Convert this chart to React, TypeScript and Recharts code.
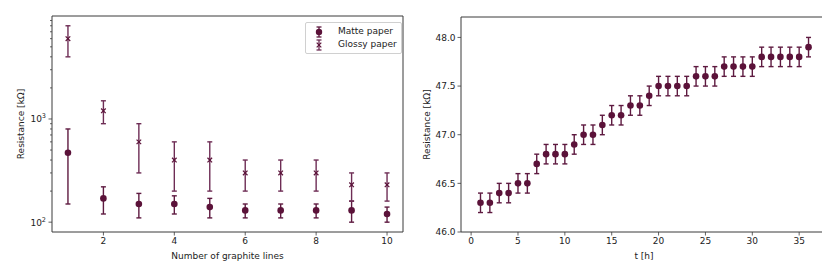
import { ScatterChart, Scatter, XAxis, YAxis, ErrorBar, ReferenceArea, Legend } from "recharts";

// left panel: resistance vs number of graphite lines (log y)
const lines = [1, 2, 3, 4, 5, 6, 7, 8, 9, 10];
const matteR = [470, 170, 150, 150, 140, 130, 130, 130, 130, 120];
const matteLo = [150, 120, 110, 120, 110, 110, 110, 110, 100, 100];
const matteHi = [800, 220, 190, 180, 170, 150, 150, 150, 160, 140];
const glossyR = [6000, 1200, 600, 400, 400, 300, 300, 300, 230, 230];
const glossyLo = [4000, 900, 300, 200, 200, 200, 200, 200, 160, 160];
const glossyHi = [8000, 1500, 900, 600, 600, 400, 400, 400, 300, 300];
const logTicks = [
  100, 200, 300, 400, 500, 600, 700, 800, 900,
  1000, 2000, 3000, 4000, 5000, 6000, 7000, 8000, 9000,
];
const lineTicks = [2, 4, 6, 8, 10];

// right panel: resistance drift over time
const hours = [
  1, 2, 3, 4, 5, 6, 7, 8, 9, 10, 11, 12, 13, 14, 15, 16, 17, 18,
  19, 20, 21, 22, 23, 24, 25, 26, 27, 28, 29, 30, 31, 32, 33, 34, 35, 36,
];
const drift = [
  46.3, 46.3, 46.4, 46.4, 46.5, 46.5, 46.7, 46.8, 46.8, 46.8, 46.9, 47.0,
  47.0, 47.1, 47.2, 47.2, 47.3, 47.3, 47.4, 47.5, 47.5, 47.5, 47.5, 47.6,
  47.6, 47.6, 47.7, 47.7, 47.7, 47.7, 47.8, 47.8, 47.8, 47.8, 47.8, 47.9,
];
const driftErr = 0.1;
const hourTicks = [0, 5, 10, 15, 20, 25, 30, 35];
const driftTicks = [46.0, 46.5, 47.0, 47.5, 48.0];

const MARK = "#5b1239";
const BAR = "#5e1a40";
const GLOSSY_BAR = "#6e2d55";
const FRAME = "#3a3a3a";
const TEXT = "#222";

const matteData = lines.map((x, i) => ({
  x,
  y: matteR[i],
  err: [matteR[i] - matteLo[i], matteHi[i] - matteR[i]],
}));
const glossyData = lines.map((x, i) => ({
  x,
  y: glossyR[i],
  err: [glossyR[i] - glossyLo[i], glossyHi[i] - glossyR[i]],
}));
const driftData = hours.map((x, i) => ({ x, y: drift[i], err: driftErr }));

const Dot = (p: any) => <circle cx={p.cx} cy={p.cy} r={3.3} fill={MARK} />;
const Cross = (p: any) => (
  <g stroke={MARK} strokeWidth={1.2}>
    <line x1={p.cx - 2.3} y1={p.cy - 2.3} x2={p.cx + 2.3} y2={p.cy + 2.3} />
    <line x1={p.cx - 2.3} y1={p.cy + 2.3} x2={p.cx + 2.3} y2={p.cy - 2.3} />
  </g>
);

const LogTick = (p: any) => {
  const v = p.payload.value;
  const e = Math.log10(v);
  const major = Math.abs(e - Math.round(e)) < 1e-6;
  return (
    <g>
      <line x1={p.x} x2={p.x - (major ? 3.5 : 2)} y1={p.y} y2={p.y} stroke={FRAME} strokeWidth={0.8} />
      {major && (
        <text x={p.x - 6} y={p.y + 3.5} textAnchor="end" fontSize={9} fill={TEXT}>
          10
          <tspan dy={-4} fontSize={6.5}>{Math.round(e)}</tspan>
        </text>
      )}
    </g>
  );
};

const LegendIcon = ({ kind }: { kind: string }) => (
  <svg width={10} height={12} style={{ marginRight: 8 }}>
    <g stroke={kind === "dot" ? BAR : GLOSSY_BAR} strokeWidth={1.3}>
      <line x1={5} x2={5} y1={1} y2={11} />
      <line x1={2.5} x2={7.5} y1={1} y2={1} />
      <line x1={2.5} x2={7.5} y1={11} y2={11} />
    </g>
    {kind === "dot" ? (
      <circle cx={5} cy={6} r={3.2} fill={MARK} />
    ) : (
      <g stroke={MARK} strokeWidth={1.2}>
        <line x1={2.7} y1={3.7} x2={7.3} y2={8.3} />
        <line x1={2.7} y1={8.3} x2={7.3} y2={3.7} />
      </g>
    )}
  </svg>
);

const renderLegend = () => (
  <div
    style={{
      border: "1px solid #d0d0d0",
      borderRadius: 2,
      background: "rgba(255,255,255,0.85)",
      padding: "2px 4px 2px 8px",
      fontSize: 9,
      color: TEXT,
      lineHeight: "13px",
    }}
  >
    <div style={{ display: "flex", alignItems: "center" }}>
      <LegendIcon kind="dot" />
      <span style={{ marginLeft: 6 }}>Matte paper</span>
    </div>
    <div style={{ display: "flex", alignItems: "center" }}>
      <LegendIcon kind="cross" />
      <span style={{ marginLeft: 6 }}>Glossy paper</span>
    </div>
  </div>
);

const tickStyle = { fontSize: 9, fill: TEXT };

export default function App() {
  const logDom: [number, number] = [80.3, 9950];
  const lineDom: [number, number] = [0.55, 10.45];
  const hourDom: [number, number] = [-1.08, 37.97];
  const driftDom: [number, number] = [46.0, 48.21];

  return (
    <div
      style={{
        position: "relative",
        width: 830,
        height: 277,
        margin: -8,
        background: "#fff",
        fontFamily: "'DejaVu Sans', sans-serif",
      }}
    >
      <div style={{ position: "absolute", left: 0, top: 0 }}>
        <ScatterChart width={415} height={277} margin={{ top: 16, right: 12, bottom: 15, left: 12 }}>
          <XAxis
            dataKey="x"
            type="number"
            domain={lineDom}
            allowDataOverflow
            ticks={lineTicks}
            interval={0}
            axisLine={false}
            tickSize={3.5}
            tickMargin={2}
            tick={tickStyle}
            tickLine={{ stroke: FRAME, strokeWidth: 0.8 }}
            height={30}
            label={{ value: "Number of graphite lines", position: "insideBottom", offset: 3, fontSize: 9, fill: TEXT }}
          />
          <YAxis
            dataKey="y"
            type="number"
            scale="log"
            domain={logDom}
            allowDataOverflow
            ticks={logTicks}
            interval={0}
            axisLine={false}
            tickLine={false}
            tickSize={0}
            tickMargin={0}
            tick={<LogTick />}
            width={40}
            label={{
              value: "Resistance [kΩ]",
              angle: -90,
              position: "insideLeft",
              offset: 9,
              fontSize: 9,
              fill: TEXT,
              style: { textAnchor: "middle" },
            }}
          />
          <Legend
            layout="vertical"
            align="center"
            verticalAlign="middle"
            wrapperStyle={{ left: 305, top: 22, width: "auto" }}
            content={renderLegend}
          />
          <Scatter name="Matte paper" data={matteData} shape={Dot} isAnimationActive={false}>
            <ErrorBar dataKey="err" direction="y" width={2.5} stroke={BAR} strokeWidth={1.4} />
          </Scatter>
          <Scatter name="Glossy paper" data={glossyData} shape={Cross} isAnimationActive={false}>
            <ErrorBar dataKey="err" direction="y" width={2.5} stroke={GLOSSY_BAR} strokeWidth={1.4} />
          </Scatter>
          <ReferenceArea
            x1={lineDom[0]}
            x2={lineDom[1]}
            y1={logDom[0]}
            y2={logDom[1]}
            fill="none"
            stroke={FRAME}
            strokeWidth={1}
            ifOverflow="visible"
          />
        </ScatterChart>
      </div>

      <div style={{ position: "absolute", left: 415, top: 0 }}>
        <ScatterChart width={415} height={277} margin={{ top: 17, right: 3, bottom: 15, left: 6 }}>
          <XAxis
            dataKey="x"
            type="number"
            domain={hourDom}
            allowDataOverflow
            ticks={hourTicks}
            interval={0}
            axisLine={false}
            tickSize={3.5}
            tickMargin={2}
            tick={tickStyle}
            tickLine={{ stroke: FRAME, strokeWidth: 0.8 }}
            height={30}
            label={{ value: "t [h]", position: "insideBottom", offset: 3, fontSize: 9, fill: TEXT }}
          />
          <YAxis
            dataKey="y"
            type="number"
            domain={driftDom}
            allowDataOverflow
            ticks={driftTicks}
            interval={0}
            axisLine={false}
            tickSize={3.5}
            tickMargin={2}
            tick={tickStyle}
            tickLine={{ stroke: FRAME, strokeWidth: 0.8 }}
            tickFormatter={(v: number) => v.toFixed(1)}
            width={40}
            label={{
              value: "Resistance [kΩ]",
              angle: -90,
              position: "insideLeft",
              offset: 6,
              fontSize: 9,
              fill: TEXT,
              style: { textAnchor: "middle" },
            }}
          />
          <Scatter name="Drift" data={driftData} shape={Dot} isAnimationActive={false}>
            <ErrorBar dataKey="err" direction="y" width={2.5} stroke={BAR} strokeWidth={1.4} />
          </Scatter>
          <ReferenceArea
            x1={hourDom[0]}
            x2={hourDom[1]}
            y1={driftDom[0]}
            y2={driftDom[1]}
            fill="none"
            stroke={FRAME}
            strokeWidth={1}
            ifOverflow="visible"
          />
        </ScatterChart>
      </div>
    </div>
  );
}
